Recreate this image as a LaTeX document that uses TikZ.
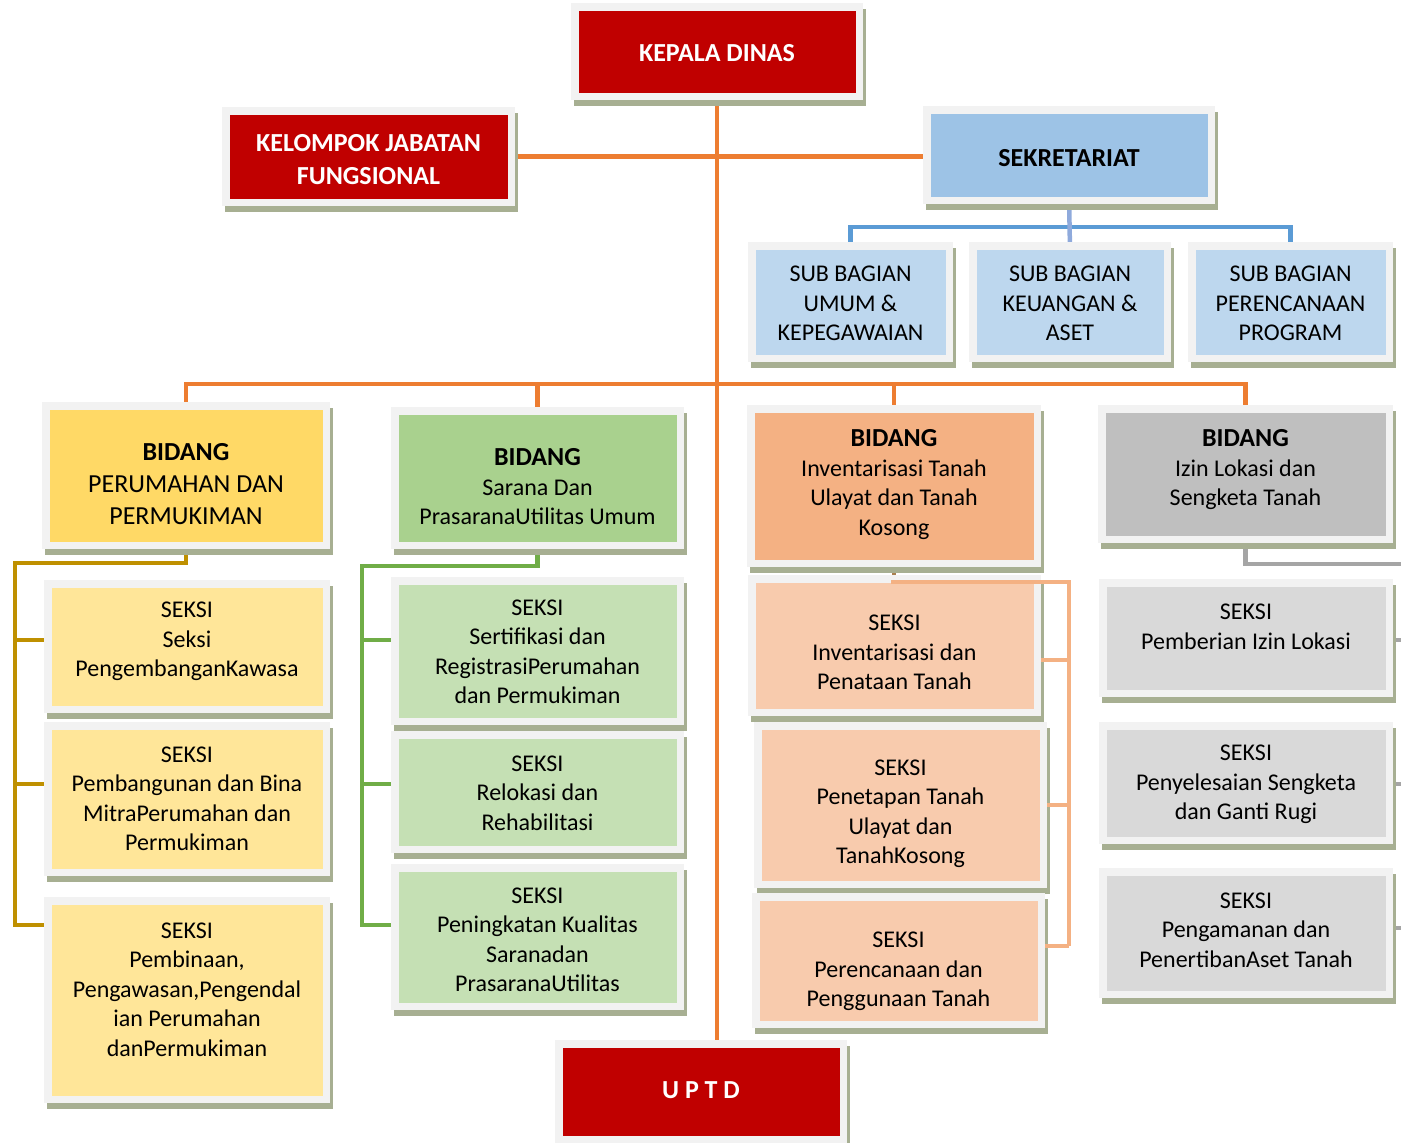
\documentclass[tikz,border=0pt]{standalone}
\usepackage{fontspec}
\setmainfont{Carlito}
\usetikzlibrary{backgrounds}
\definecolor{redc}{HTML}{C00000}
\definecolor{framec}{HTML}{F2F2F2}
\definecolor{shadowc}{HTML}{A7AF92}
\definecolor{sekc}{HTML}{9DC3E6}
\definecolor{subc}{HTML}{BDD7EE}
\definecolor{yb}{HTML}{FFD966}
\definecolor{ys}{HTML}{FFE699}
\definecolor{gbd}{HTML}{A9D18E}
\definecolor{gs}{HTML}{C5E0B4}
\definecolor{ob}{HTML}{F4B183}
\definecolor{os}{HTML}{F8CBAD}
\definecolor{grb}{HTML}{BFBFBF}
\definecolor{grs}{HTML}{D9D9D9}
\definecolor{orline}{HTML}{ED7D31}
\definecolor{blline}{HTML}{5B9BD5}
\definecolor{bllight}{HTML}{8FAADC}
\definecolor{goldline}{HTML}{BF9000}
\definecolor{grline}{HTML}{70AD47}
\definecolor{loline}{HTML}{F4B183}
\definecolor{brline}{HTML}{A98050}
\definecolor{gyline}{HTML}{A5A5A5}
\tikzset{
  framebox/.style={fill=framec, inner sep=0pt, outer sep=0pt},
  innerbox/.style={inner sep=0pt, outer sep=0pt},
  boxtext/.style={align=center, inner sep=0pt, font=\fontsize{24}{29.5}\selectfont},
  headtext/.style={text=white, font=\fontsize{26}{33}\selectfont\bfseries},
  bigtext/.style={font=\fontsize{26}{32}\selectfont},
  conn/.style={line width=4.5pt},
}
\newcommand\orgbox[9][]{%
  \fill[shadowc] (#3+3,#4+6) rectangle (#5+3,#6+6);
  \node[framebox, minimum width={(#5-#3)*1pt}, minimum height={(#6-#4)*1pt}] (#2-o) at ({(#3+#5)/2},{(#4+#6)/2}) {};
  \node[innerbox, fill=#7, minimum width={(#5-#3-15)*1pt}, minimum height={(#6-#4-15)*1pt}] (#2) at (#2-o.center) {};
  \node[boxtext, #1] (#2-t) at ({(#3+#5)/2},#8) {#9};
}
\newcommand\bidhead{{\fontsize{26}{31}\selectfont\bfseries BIDANG}}
\begin{document}
\begin{tikzpicture}[x=1pt,y=-1pt]
\useasboundingbox (0,0) rectangle (1401,1143);
\clip (0,0) rectangle (1401,1143);
% top
\orgbox[headtext]{kepala}{571}{3}{863}{100}{redc}{53}{KEPALA DINAS}
\orgbox[headtext]{kelompok}{222}{107}{515}{206}{redc}{159.5}{KELOMPOK JABATAN\\FUNGSIONAL}
\orgbox[headtext, text=black]{sekr}{923}{106}{1215}{204}{sekc}{158}{SEKRETARIAT}
\orgbox{sub1}{748}{242}{953}{362}{subc}{303.5}{SUB BAGIAN\\UMUM \&\\KEPEGAWAIAN}
\orgbox{sub2}{969}{242}{1171}{362}{subc}{303.5}{SUB BAGIAN\\KEUANGAN \&\\ASET}
\orgbox{sub3}{1188}{242}{1393}{362}{subc}{303.5}{SUB BAGIAN\\PERENCANAAN\\PROGRAM}
% bidang
\orgbox[bigtext]{b1}{42}{402}{330}{549}{yb}{484.5}{\textbf{BIDANG}\\PERUMAHAN DAN\\PERMUKIMAN}
\orgbox{b2}{391}{407}{684}{549}{gbd}{487}{\bidhead\\Sarana Dan\\PrasaranaUtilitas Umum}
\orgbox{b3}{747}{405}{1041}{567}{ob}{484.5}{\bidhead\\Inventarisasi Tanah\\Ulayat dan Tanah\\Kosong}
\orgbox{b4}{1098}{405}{1393}{543}{grb}{470}{\bidhead\\Izin Lokasi dan\\Sengketa Tanah}
% yellow seksi
\orgbox{ya}{44}{580}{330}{713}{ys}{641.5}{SEKSI\\Seksi\\PengembanganKawasa}
\orgbox{yb}{44}{722}{330}{876}{ys}{799}{SEKSI\\Pembangunan dan Bina\\MitraPerumahan dan\\Permukiman}
\orgbox{yc}{44}{897}{330}{1103}{ys}{989.5}{SEKSI\\Pembinaan,\\Pengawasan,Pengendal\\ian Perumahan\\danPermukiman}
% green seksi
\orgbox{ga}{391}{577}{684}{725}{gs}{652}{SEKSI\\Sertifikasi dan\\RegistrasiPerumahan\\dan Permukiman}
\orgbox{gb}{391}{731}{684}{853}{gs}{793}{SEKSI\\Relokasi dan\\Rehabilitasi}
\orgbox{gc}{391}{864}{684}{1010}{gs}{940}{SEKSI\\Peningkatan Kualitas\\Saranadan\\PrasaranaUtilitas}
% orange seksi
\orgbox{oa}{748}{575}{1041}{716}{os}{652.5}{SEKSI\\Inventarisasi dan\\Penataan Tanah}
\orgbox{ob}{754}{722}{1047}{888}{os}{814}{SEKSI\\Penetapan Tanah\\Ulayat dan\\TanahKosong}
\orgbox{oc}{752}{893}{1045}{1028}{os}{971.5}{SEKSI\\Perencanaan dan\\Penggunaan Tanah}
% gray seksi
\orgbox{sa}{1099}{579}{1393}{697}{grs}{627}{SEKSI\\Pemberian Izin Lokasi}
\orgbox{sb}{1099}{722}{1393}{844}{grs}{784.5}{SEKSI\\Penyelesaian Sengketa\\dan Ganti Rugi}
\orgbox{sc}{1099}{868}{1393}{998}{grs}{930}{SEKSI\\Pengamanan dan\\PenertibanAset Tanah}
% uptd
\orgbox[headtext]{uptd}{555}{1040}{847}{1143}{redc}{1090}{U P T D}
% junction coordinates
\coordinate (hbar) at (717,384);
\coordinate (bj) at (1069,227);
\coordinate (yj0) at (15,563);
\coordinate (yj1) at (15,640);
\coordinate (yj2) at (15,784);
\coordinate (yj3) at (15,925);
\coordinate (gj0) at (362,566);
\coordinate (gj1) at (362,640);
\coordinate (gj2) at (362,784);
\coordinate (gj3) at (362,925);
\coordinate (oj0) at (1069,582);
\coordinate (oj1) at (1069,660);
\coordinate (oj2) at (1069,805);
\coordinate (oj3) at (1069,946);
\coordinate (sj0) at (1410,564);
\coordinate (sj1) at (1410,640);
\coordinate (sj2) at (1410,784);
\coordinate (sj3) at (1410,928);
% light orange connector on top
\draw[conn, loline] ([xshift=-3pt]b3.south |- oj0) -- (oj0) -- (oj3);
\draw[conn, loline] (oj1 -| oa-o.east) -- (oj1);
\draw[conn, loline] (oj2 -| ob-o.east) -- (oj2);
\draw[conn, loline] (oj3 -| oc-o.east) -- (oj3);
\begin{pgfonlayer}{background}
  % main orange
  \draw[conn, orline] (kepala.south) -- (kepala.south |- uptd-o.north);
  \draw[conn, orline] (kelompok.east) -- (kelompok.east -| sekr.west);
  \draw[conn, orline] (b1.north) -- (b1.north |- hbar) -- (b4.north |- hbar) -- (b4.north);
  \draw[conn, orline] (b2.north) -- (b2.north |- hbar);
  \draw[conn, orline] (b3.north) -- (b3.north |- hbar);
  % blue
  \draw[conn, blline] (sub1.north) |- (bj) -| (sub3.north);
  \draw[conn, bllight] (sekr.south) -- (sub2.north);
  % light orange stem (hidden behind frames)
  \draw[conn, brline] (b3.south) -- (b3.south |- oj0);
  % gold
  \draw[conn, goldline] (b1.south) |- (yj0) -- (yj3) -- (yj3 -| yc.west);
  \draw[conn, goldline] (yj1) -- (yj1 -| ya.west);
  \draw[conn, goldline] (yj2) -- (yj2 -| yb.west);
  % green
  \draw[conn, grline] (b2.south) |- (gj0) -- (gj3) -- (gj3 -| gc.west);
  \draw[conn, grline] (gj1) -- (gj1 -| ga.west);
  \draw[conn, grline] (gj2) -- (gj2 -| gb.west);
  % gray
  \draw[conn, gyline] (b4.south) |- (sj0) -- (sj3) -- (sj3 -| sc.east);
  \draw[conn, gyline] (sj1) -- (sj1 -| sa.east);
  \draw[conn, gyline] (sj2) -- (sj2 -| sb.east);
\end{pgfonlayer}
\end{tikzpicture}
\end{document}
